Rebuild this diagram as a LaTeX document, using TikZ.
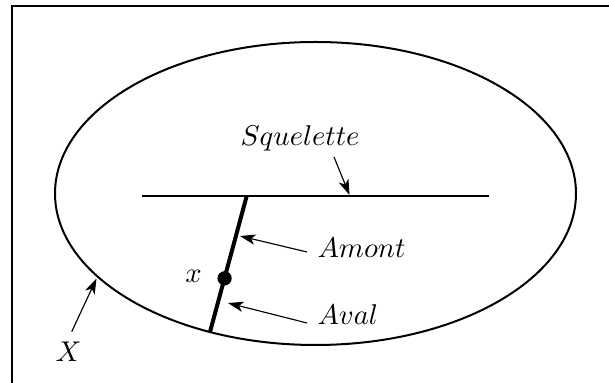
\documentclass[tikz,border=0pt]{standalone}
\usetikzlibrary{arrows.meta,shapes.geometric}
\begin{document}
\begin{tikzpicture}[x=0.35pt,y=-0.35pt,
  lbl/.style={inner sep=0pt},
  ptr/.style={line width=0.4pt,-{Stealth[length=5.4pt,width=3.6pt,inset=1.4pt]}}]
\clip (0,0) rectangle (609,383);
\draw[line width=0.9pt] (12,6) rectangle (640,410);
\node[draw,ellipse,line width=0.7pt,inner sep=0pt,minimum width=521*0.35pt,minimum height=303*0.35pt] (ell) at (315.5,193.5) {};
\coordinate (sl) at (142,196);
\coordinate (sr) at (489,196);
\draw[line width=0.6pt] (sl) -- (sr);
\coordinate (bt) at (246.7,196);
\coordinate (bb) at (210,332);
\draw[line width=1.4pt] (bt) -- (bb);
\fill (224.6,278.3) circle (2.5pt) coordinate (dot);
\node[lbl,anchor=base] (sq) at (300,146) {$Squelette$};
\node[lbl,anchor=base west] (am) at (317,258) {$Amont$};
\node[lbl,anchor=base west] (av) at (317,325) {$Aval$};
\node[lbl,anchor=base] (xl) at (193.5,283) {$x$};
\node[lbl,anchor=base] (XL) at (68.5,362) {$X$};
\coordinate (sqt) at (334,157);
\coordinate (sqh) at (349.5,195);
\coordinate (amt) at (307,252);
\coordinate (amh) at (240,236);
\coordinate (avt) at (307,323);
\coordinate (avh) at (228,303);
\coordinate (Xt) at (71.7,331.7);
\coordinate (Xh) at (96.5,278.5);
\draw[ptr] (sqt) -- (sqh);
\draw[ptr] (amt) -- (amh);
\draw[ptr] (avt) -- (avh);
\draw[ptr] (Xt) -- (Xh);
\end{tikzpicture}
\end{document}
